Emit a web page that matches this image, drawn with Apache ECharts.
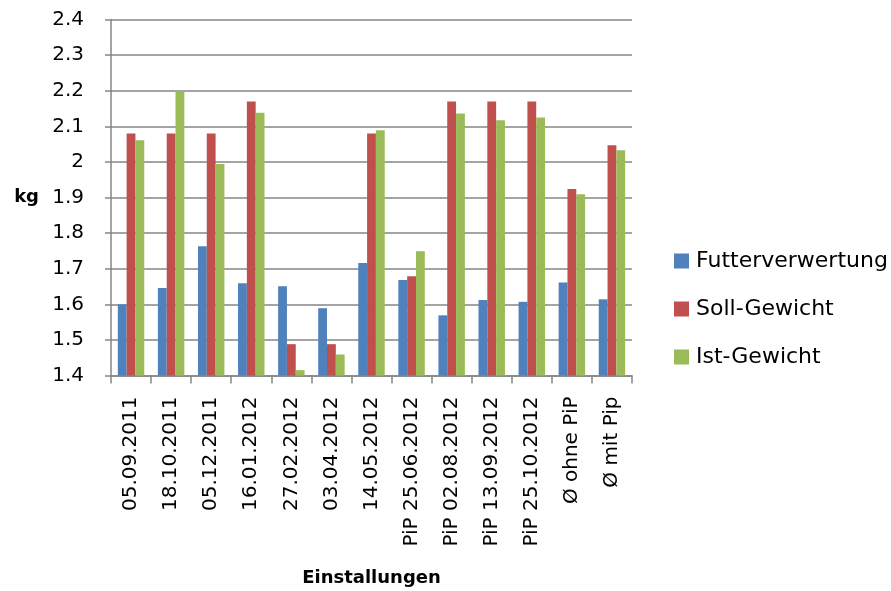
<!DOCTYPE html>
<html><head><meta charset="utf-8">
<script src="https://cdn.jsdelivr.net/npm/echarts@6/dist/echarts.min.js"></script>
<style>html,body{margin:0;padding:0;background:#fff}#c{width:891px;height:591px}</style>
</head><body><div id="c"></div>
<script>
const categories = ['05.09.2011','18.10.2011','05.12.2011','16.01.2012','27.02.2012','03.04.2012','14.05.2012','PiP 25.06.2012','PiP 02.08.2012','PiP 13.09.2012','PiP 25.10.2012','Ø ohne PiP','Ø mit Pip'];
const futterverwertung = [1.600,1.646,1.763,1.659,1.651,1.589,1.716,1.668,1.569,1.612,1.607,1.661,1.614];
const sollGewicht = [2.080,2.080,2.080,2.170,1.488,1.488,2.080,1.679,2.170,2.170,2.170,1.924,2.047];
const istGewicht = [2.061,2.198,1.994,2.138,1.415,1.459,2.089,1.749,2.136,2.117,2.125,1.909,2.033];
const seriesNames = ['Futterverwertung','Soll-Gewicht','Ist-Gewicht'];
const colors = ['#4F81BD','#C0504D','#9BBB59'];
const FONT = 'DejaVu Sans';
const chart = echarts.init(document.getElementById('c'));
const mk = (name, data, color) => ({
  name, type:'bar', data, barWidth:'22%', barGap:'0%', barCategoryGap:'34%',
  itemStyle:{color}
});
chart.setOption({
  animation:false,
  textStyle:{fontFamily:FONT},
  grid:{left:111,right:259,top:19.5,bottom:215.5,containLabel:false,outerBoundsMode:'none'},
  legend:{
    orient:'vertical', left:674, top:250, padding:0, itemGap:26, itemWidth:15, itemHeight:15,
    icon:'rect', textStyle:{fontFamily:FONT,fontSize:22,color:'#000',padding:[0,0,0,2]},
    data:seriesNames
  },
  xAxis:{
    type:'category', data:categories,
    axisLine:{lineStyle:{color:'#868686',width:1.5}},
    axisTick:{show:true,length:8,lineStyle:{color:'#868686',width:1.5}},
    axisLabel:{rotate:90,interval:0,margin:21,fontSize:20,color:'#000',fontFamily:FONT},
    name:'Einstallungen', nameLocation:'middle', nameGap:194,
    nameTextStyle:{fontFamily:FONT,fontSize:18,fontWeight:'bold',color:'#000'}
  },
  yAxis:{
    type:'value', min:1.4, max:2.4, interval:0.1,
    axisLine:{show:true,lineStyle:{color:'#868686',width:1.5}},
    axisTick:{show:true,length:6,inside:false,lineStyle:{color:'#868686',width:1.5}},
    splitLine:{lineStyle:{color:'#868686',width:1.5}},
    axisLabel:{margin:27,fontSize:20,color:'#000',fontFamily:FONT,
      formatter:v=>String(parseFloat(v.toFixed(1)))},
    name:'kg', nameLocation:'middle', nameGap:72, nameRotate:0,
    nameTextStyle:{fontFamily:FONT,fontSize:18,fontWeight:'bold',color:'#000'}
  },
  series:[
    mk(seriesNames[0], futterverwertung, colors[0]),
    mk(seriesNames[1], sollGewicht, colors[1]),
    mk(seriesNames[2], istGewicht, colors[2])
  ]
});
</script></body></html>
